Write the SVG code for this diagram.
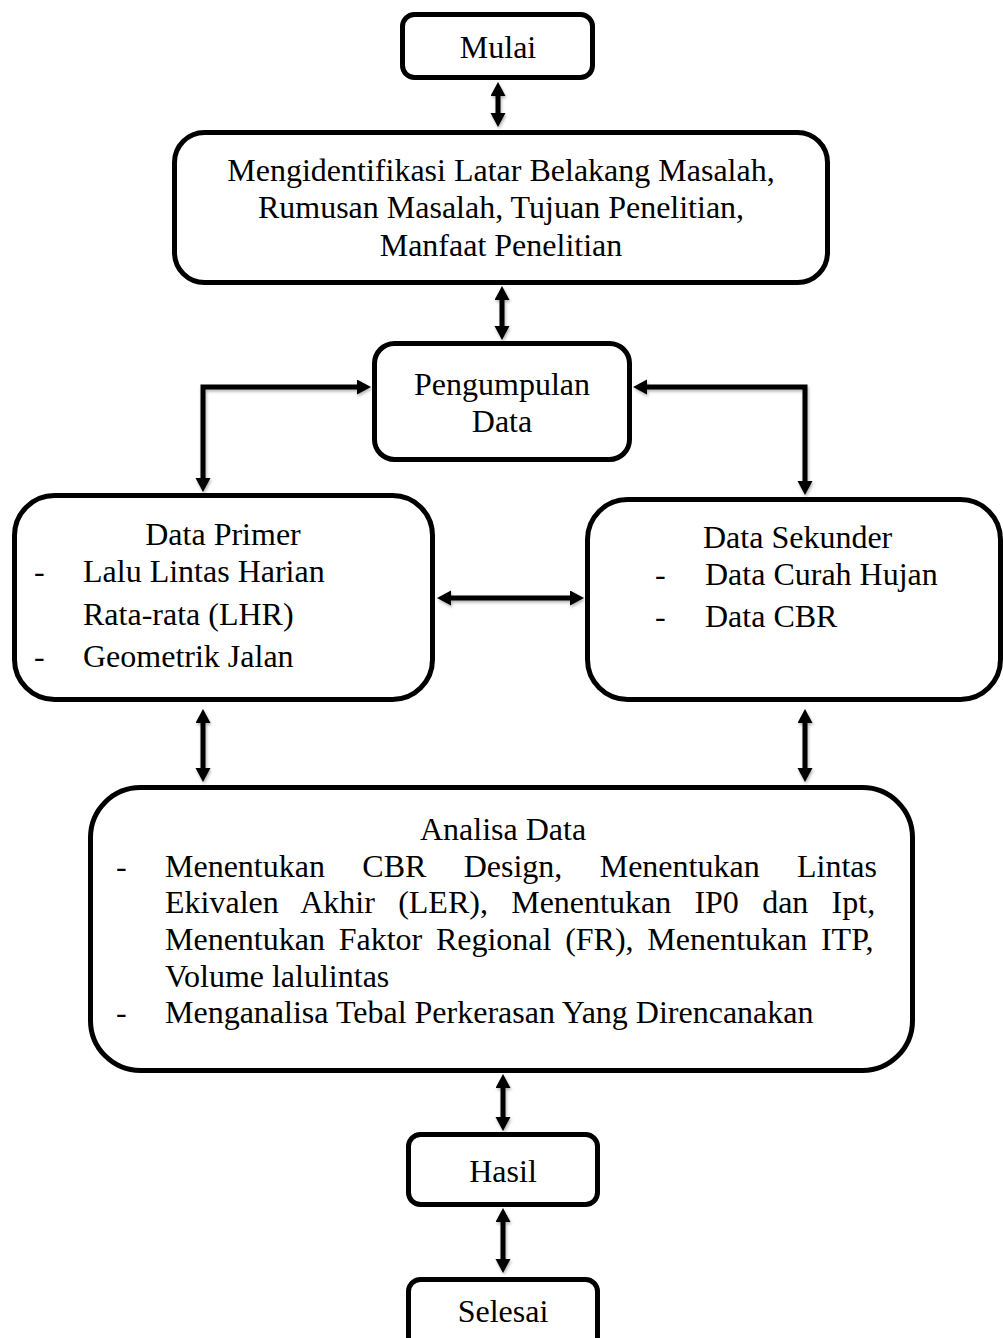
<svg xmlns="http://www.w3.org/2000/svg" width="1003" height="1338" viewBox="0 0 1003 1338">
<style>
.box{fill:#fff;stroke:#000;stroke-width:5}
.t{font-family:"Liberation Serif","Times New Roman",serif;font-size:32px;fill:#000}
.c{text-anchor:middle}
.con{fill:none;stroke:#000;stroke-width:5;marker-start:url(#ah);marker-end:url(#ah)}
</style>
<defs>
<marker id="ah" markerUnits="userSpaceOnUse" markerWidth="16" markerHeight="16" refX="2" refY="7.5" orient="auto-start-reverse" viewBox="0 0 16 16">
<path d="M0,0 L14,7.5 L0,15 z" fill="#000"/>
</marker>
<filter id="sh" x="-20%" y="-20%" width="140%" height="140%">
<feDropShadow dx="1" dy="2" stdDeviation="1.5" flood-color="#000" flood-opacity="0.3"/>
</filter>
</defs>
<rect width="1003" height="1338" fill="#fff"/>
<g id="connectors" filter="url(#sh)">
<path class="con" d="M498,94 L498,115"/>
<path class="con" d="M502,298 L502,328"/>
<path class="con" d="M359,387 L203,387 L203,480"/>
<path class="con" d="M645,387 L805,387 L805,483"/>
<path class="con" d="M449,598 L572,598"/>
<path class="con" d="M203,721 L203,770"/>
<path class="con" d="M805,721 L805,770"/>
<path class="con" d="M503,1086 L503,1119"/>
<path class="con" d="M503,1220 L503,1261"/>
</g>
<g id="mulai">
<rect class="box" x="402.5" y="14.5" width="190" height="63" rx="12"/>
<text class="t c" x="498" y="58">Mulai</text>
</g>
<g id="identifikasi">
<rect class="box" x="174.5" y="132.5" width="653" height="150" rx="30"/>
<text class="t c" x="501" y="181">Mengidentifikasi Latar Belakang Masalah,</text>
<text class="t c" x="501" y="218">Rumusan Masalah, Tujuan Penelitian,</text>
<text class="t c" x="501" y="256">Manfaat Penelitian</text>
</g>
<g id="pengumpulan">
<rect class="box" x="374.5" y="343.5" width="255" height="116" rx="20"/>
<text class="t c" x="502" y="395">Pengumpulan</text>
<text class="t c" x="502" y="432">Data</text>
</g>
<g id="primer">
<rect class="box" x="14.5" y="495.5" width="418" height="204" rx="40"/>
<text class="t c" x="223" y="545">Data Primer</text>
<text class="t" x="34" y="582">-</text>
<text class="t" x="83" y="582">Lalu Lintas Harian</text>
<text class="t" x="83" y="625">Rata-rata (LHR)</text>
<text class="t" x="34" y="667">-</text>
<text class="t" x="83" y="667">Geometrik Jalan</text>
</g>
<g id="sekunder">
<rect class="box" x="587.5" y="499.5" width="413" height="200" rx="40"/>
<text class="t" x="703" y="548">Data Sekunder</text>
<text class="t" x="655" y="585">-</text>
<text class="t" x="705" y="585">Data Curah Hujan</text>
<text class="t" x="655" y="627">-</text>
<text class="t" x="705" y="627">Data CBR</text>
</g>
<g id="analisa">
<rect class="box" x="90.5" y="787.5" width="822" height="283" rx="50"/>
<text class="t c" x="503" y="840">Analisa Data</text>
<text class="t" x="116" y="877">-</text>
<text class="t" x="165" y="877" word-spacing="29.35">Menentukan CBR Design, Menentukan Lintas</text>
<text class="t" x="165" y="913" word-spacing="15.27">Ekivalen Akhir (LER), Menentukan IP0 dan Ipt,</text>
<text class="t" x="165" y="950" word-spacing="5.7">Menentukan Faktor Regional (FR), Menentukan ITP,</text>
<text class="t" x="165" y="987">Volume lalulintas</text>
<text class="t" x="116" y="1023">-</text>
<text class="t" x="165" y="1023">Menganalisa Tebal Perkerasan Yang Direncanakan</text>
</g>
<g id="hasil">
<rect class="box" x="408.5" y="1134.5" width="189" height="70" rx="12"/>
<text class="t c" x="503" y="1182">Hasil</text>
</g>
<g id="selesai">
<rect class="box" x="408.5" y="1279.5" width="189" height="80" rx="12"/>
<text class="t c" x="503" y="1322">Selesai</text>
</g>
</svg>
